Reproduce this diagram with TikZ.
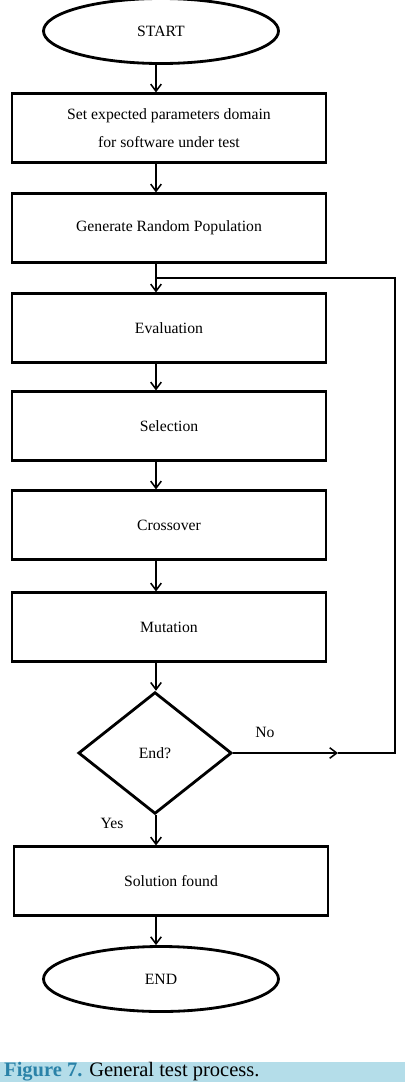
\documentclass[tikz,border=0pt]{standalone}
\usepackage{fontspec}
\setmainfont{Liberation Serif}
\usetikzlibrary{shapes.geometric,arrows.meta}
\definecolor{capblue}{RGB}{180,221,233}
\definecolor{figblue}{RGB}{42,130,168}

\begin{document}
\begin{tikzpicture}[x=0.03cm,y=-0.03cm,font=\fontsize{13.4}{24}\selectfont]
\tikzstyle{stepbox}=[draw,line width=2.4pt,rectangle,minimum width=9.42cm,minimum height=2.05cm,align=center]
\tikzstyle{term}=[draw,line width=2.4pt,ellipse,minimum width=7.05cm,minimum height=1.95cm]
\tikzstyle{test}=[draw,line width=2.4pt,diamond,aspect=1.26,minimum width=4.6cm,minimum height=3.65cm]
\tikzstyle{arr}=[line width=1.3pt,-{Straight Barb[length=6pt,width=9pt]}]
\tikzstyle{back}=[line width=1pt]
\useasboundingbox (0,0) rectangle (405,1082);
\coordinate (spine) at (156,0);
\node[term] (start) at (161,31) {START};
\node[stepbox] (domain) at (169,128) {Set expected parameters domain\\for software under test};
\node[stepbox] (popul) at (169,228) {Generate Random Population};
\node[stepbox] (eval) at (169,328) {Evaluation};
\node[stepbox] (select) at (169,426) {Selection};
\node[stepbox] (cross) at (169,525) {Crossover};
\node[stepbox] (mutate) at (169,627) {Mutation};
\node[test] (endq) at (155,753) {End?};
\node[stepbox] (found) at (171,881) {Solution found};
\node[term] (stop) at (161,979) {END};
\foreach \a/\b in {start/domain,domain/popul,popul/eval,eval/select,select/cross,cross/mutate,mutate/endq,endq/found,found/stop}{
\draw[arr] (\a.south -| spine) -- (\b.north -| spine);
}
% loop back when not finished
\coordinate (nomid) at (338,753);
\coordinate (join) at (395,278);
\draw[arr] (endq.east) -- (nomid);
\draw[back] (nomid) -- (nomid -| join) -- (join) -- (join -| spine);
\node (no) at (265,732) {No};
\node (yes) at (112,823) {Yes};
\fill[capblue] (0,1062) rectangle (405,1082);
\node[anchor=base west,inner sep=0,font=\fontsize{17.5}{20}\selectfont] (cap) at (4,1076.5) {\textcolor{figblue}{\textbf{Figure 7.}} General test process.};
\end{tikzpicture}
\end{document}
